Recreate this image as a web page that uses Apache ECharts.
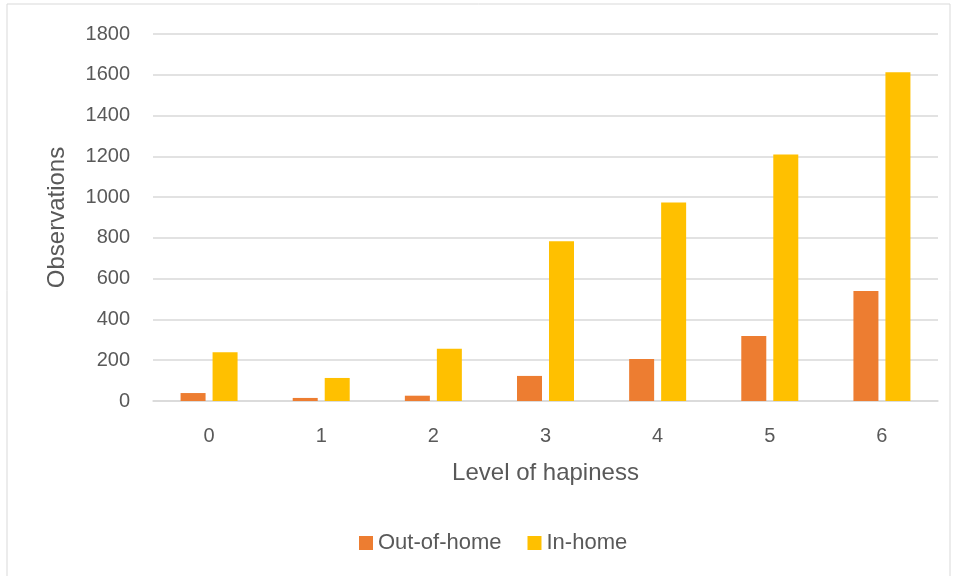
<!DOCTYPE html>
<html>
<head>
<meta charset="utf-8">
<script src="https://cdn.jsdelivr.net/npm/echarts@6/dist/echarts.min.js"></script>
<style>
  html, body { margin: 0; padding: 0; background: #fff; }
  #chart { width: 956px; height: 576px; }
</style>
</head>
<body>
<div id="chart"></div>
<script>
const levels = ['0', '1', '2', '3', '4', '5', '6'];
const outOfHome = [39, 15, 26, 123, 206, 319, 539];
const inHome = [239, 113, 256, 784, 974, 1209, 1613];
const yTicks = [0, 1800, 200]; // min, max, step

const textColor = '#595959';
const font = 'Liberation Sans';

const chart = echarts.init(document.getElementById('chart'), null, { renderer: 'canvas' });

chart.setOption({
  animation: false,
  backgroundColor: '#fff',
  graphic: [{
    type: 'rect',
    shape: { x: 7, y: 4, width: 943, height: 580 },
    style: { fill: 'none', stroke: '#d9d9d9', lineWidth: 1 },
    silent: true
  }],
  grid: { left: 153, right: 18, top: 34, bottom: 175 },
  legend: {
    top: 527,
    left: 354,
    itemWidth: 14,
    itemHeight: 14,
    itemGap: 26,
    icon: 'rect',
    textStyle: { color: textColor, fontSize: 22, fontFamily: font }
  },
  xAxis: {
    type: 'category',
    data: levels,
    name: 'Level of hapiness',
    nameLocation: 'middle',
    nameGap: 60,
    nameTextStyle: { color: textColor, fontSize: 24, fontFamily: font },
    axisLine: { lineStyle: { color: '#d9d9d9', width: 1.5 } },
    axisTick: { show: false },
    axisLabel: { color: textColor, fontSize: 20, fontFamily: font, margin: 25 }
  },
  yAxis: {
    type: 'value',
    min: yTicks[0],
    max: yTicks[1],
    interval: yTicks[2],
    name: 'Observations',
    nameLocation: 'middle',
    nameGap: 84,
    nameTextStyle: { color: textColor, fontSize: 24, fontFamily: font },
    axisLine: { show: false },
    axisTick: { show: false },
    axisLabel: {
      color: textColor, fontSize: 20, fontFamily: font, margin: 23,
      formatter: v => String(v)
    },
    splitLine: { lineStyle: { color: '#d9d9d9', width: 1.5 } }
  },
  series: [
    {
      name: 'Out-of-home',
      type: 'bar',
      data: outOfHome,
      barWidth: 25,
      barGap: '28%',
      itemStyle: { color: '#ED7D31' }
    },
    {
      name: 'In-home',
      type: 'bar',
      data: inHome,
      barWidth: 25,
      itemStyle: { color: '#FFC000' }
    }
  ]
});
</script>
</body>
</html>
